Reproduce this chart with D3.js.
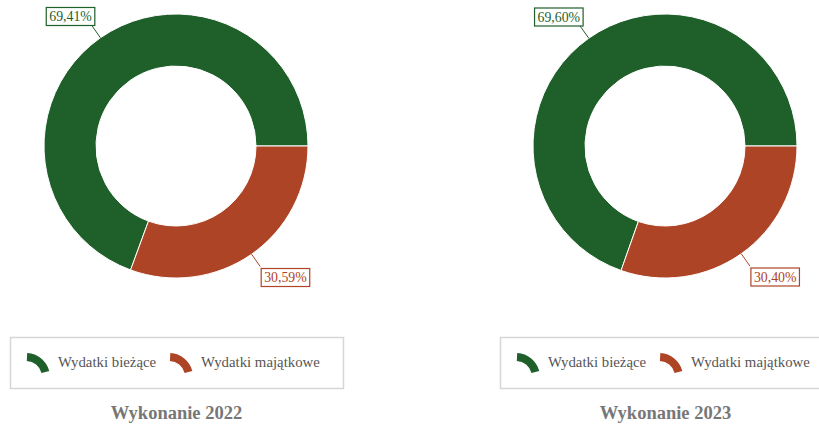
<!DOCTYPE html>
<html><head><meta charset="utf-8">
<script src="https://cdn.jsdelivr.net/npm/d3@7"></script>
<style>body{margin:0;background:#fff}svg{display:block}</style>
</head><body>
<svg id="c" width="819" height="426"></svg>
<script>
const categories = ["Wydatki bieżące", "Wydatki majątkowe"];
const titles = ["Wykonanie 2022", "Wykonanie 2023"];
const values2022 = [69.41, 30.59];
const values2023 = [69.60, 30.40];
const labels2022 = ["69,41%", "30,59%"];
const labels2023 = ["69,60%", "30,40%"];
const colors = ["#1e5f2a", "#ae4426"];

const svg = d3.select("#c");
const FONT = "'Liberation Serif','Times New Roman',serif";
const charts = [
  {cx: 176, values: values2022, labels: labels2022, title: titles[0], legendX: 10},
  {cx: 665, values: values2023, labels: labels2023, title: titles[1], legendX: 500}
];
const cy = 146, R = 132, r = 80;
const color = d3.scaleOrdinal().domain(categories).range(colors);

charts.forEach(ch => {
  const data = categories.map((c, i) => ({cat: c, v: ch.values[i], lab: ch.labels[i]}));
  const pie = d3.pie().sort(null).value(d => d.v).startAngle(Math.PI/2).endAngle(Math.PI/2 - 2*Math.PI);
  const arcs = pie(data);
  const arc = d3.arc().innerRadius(r).outerRadius(R);
  const g = svg.append("g").attr("transform", `translate(${ch.cx},${cy})`);
  g.selectAll("path").data(arcs).join("path")
    .attr("d", arc).attr("fill", d => color(d.data.cat))
    .attr("stroke", "#fff").attr("stroke-width", 1);

  arcs.forEach(a => {
    const mid = (a.startAngle + a.endAngle) / 2;
    const p0 = [R * Math.sin(mid), -R * Math.cos(mid)];
    const p1 = [147 * Math.sin(mid), -147 * Math.cos(mid)];
    const col = color(a.data.cat);
    g.append("line").attr("x1", p0[0]).attr("y1", p0[1]).attr("x2", p1[0]).attr("y2", p1[1])
      .attr("stroke", col).attr("stroke-width", 1);
    const t = g.append("text").text(a.data.lab)
      .attr("font-family", FONT).attr("font-size", 13.8).attr("fill", col);
    const w = t.node().getComputedTextLength() + 6, h = 18;
    let bx, by;
    if (p1[0] < 0) { bx = p1[0] + 3 - w; by = p1[1] - h; }
    else { bx = p1[0] + 1; by = p1[1] + 2; }
    g.append("rect").attr("x", bx).attr("y", by).attr("width", w).attr("height", h)
      .attr("fill", "#fff").attr("stroke", col).attr("stroke-width", 1.2);
    t.attr("x", bx + 3).attr("y", by + 13.5);
    t.raise();
  });

  // legend
  const lg = svg.append("g").attr("transform", `translate(${ch.legendX},337)`);
  lg.append("rect").attr("x", 0.5).attr("y", 0.5).attr("width", 333).attr("height", 51)
    .attr("fill", "#fff").attr("stroke", "#d6d6d6").attr("stroke-width", 1.5);
  const iconArc = d3.arc().innerRadius(16).outerRadius(24).startAngle(0.05).endAngle(Math.PI/2 - 0.25);
  let x = 16;
  categories.forEach(c => {
    lg.append("path").attr("d", iconArc()).attr("fill", color(c))
      .attr("transform", `translate(${x},${40})`);
    const tt = lg.append("text").text(c).attr("x", x + 32).attr("y", 30)
      .attr("font-family", FONT).attr("font-size", 14.8).attr("fill", "#555");
    x += 32 + tt.node().getComputedTextLength() + 13;
  });

  svg.append("text").text(ch.title).attr("x", ch.cx + 0.5).attr("y", 419)
    .attr("text-anchor", "middle").attr("font-family", FONT).attr("font-weight", "bold")
    .attr("font-size", 18.5).attr("fill", "#777");
});
</script>
</body></html>
